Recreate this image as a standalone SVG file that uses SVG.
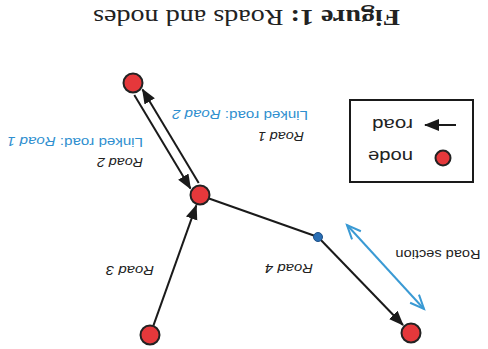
<svg xmlns="http://www.w3.org/2000/svg" width="488" height="349" viewBox="0 0 488 349">
<style>
.node{fill:#e5383b;stroke:#222;stroke-width:2}
.road{stroke:#1a1a1a;stroke-width:2;fill:none;marker-end:url(#ah)}
.plain{stroke:#1a1a1a;stroke-width:2;fill:none}
.lbl{font-family:"Liberation Sans",Arial,sans-serif;font-size:13px;fill:#222;text-anchor:middle;dominant-baseline:central}
.it{font-style:italic}
.blue{fill:#2f8fcf}
.cap{font-family:"Liberation Serif","Times New Roman",serif;font-size:24px;fill:#222;text-anchor:middle;dominant-baseline:central}
.leg{font-family:"Liberation Sans",Arial,sans-serif;font-size:17px;fill:#222;text-anchor:middle;dominant-baseline:central}
</style>
<defs>
<marker id="ah" markerUnits="userSpaceOnUse" markerWidth="16" markerHeight="14" refX="14" refY="6" orient="auto">
<path d="M0,0 L15,6 L0,12 z" fill="#1a1a1a"/>
</marker>
<marker id="bh" markerUnits="userSpaceOnUse" markerWidth="18" markerHeight="16" refX="15" refY="7" orient="auto-start-reverse">
<path d="M1,1 L15,7 L1,13" fill="none" stroke="#3a9ad4" stroke-width="2"/>
</marker>
</defs>
<rect width="488" height="349" fill="#fff"/>

<text class="cap" x="246.5" y="18" transform="rotate(180 246.5 18)" textLength="307" lengthAdjust="spacingAndGlyphs"><tspan font-weight="bold">Figure 1:</tspan> Roads and nodes</text>

<g id="connectors">
<line class="road" x1="134.3" y1="95" x2="190.5" y2="188.6"/>
<line class="road" x1="198.7" y1="183" x2="142.5" y2="89.4"/>
<line class="road" x1="153.4" y1="325.6" x2="196.3" y2="205.4"/>
<line class="plain" x1="209" y1="198.5" x2="318" y2="237"/>
<line class="road" x1="318" y1="237" x2="403" y2="325"/>
<line x1="347" y1="225" x2="424" y2="309" stroke="#3a9ad4" stroke-width="2" marker-start="url(#bh)" marker-end="url(#bh)"/>
</g>

<g id="node-a"><circle class="node" cx="133" cy="83" r="9.5"/></g>
<g id="node-b"><circle class="node" cx="200" cy="195" r="9.5"/></g>
<g id="node-c"><circle class="node" cx="150" cy="335" r="9.5"/></g>
<g id="node-d"><circle class="node" cx="411" cy="333" r="9.5"/></g>
<g id="section-point"><circle cx="318" cy="237" r="4.5" fill="#2a6fb5" stroke="#1d4f86" stroke-width="1"/></g>

<g id="labels">
<text class="lbl it" x="281" y="136" transform="rotate(180 281 136)" textLength="46" lengthAdjust="spacingAndGlyphs">Road 1</text>
<text class="lbl blue" x="240" y="115" transform="rotate(180 240 115)" textLength="136" lengthAdjust="spacingAndGlyphs">Linked road: <tspan class="it">Road 2</tspan></text>
<text class="lbl it" x="120" y="162" transform="rotate(180 120 162)" textLength="46" lengthAdjust="spacingAndGlyphs">Road 2</text>
<text class="lbl blue" x="75" y="142" transform="rotate(180 75 142)" textLength="136" lengthAdjust="spacingAndGlyphs">Linked road: <tspan class="it">Road 1</tspan></text>
<text class="lbl it" x="130" y="270" transform="rotate(180 130 270)" textLength="48" lengthAdjust="spacingAndGlyphs">Road 3</text>
<text class="lbl it" x="289" y="268" transform="rotate(180 289 268)" textLength="48" lengthAdjust="spacingAndGlyphs">Road 4</text>
<text class="lbl" x="438" y="254" transform="rotate(180 438 254)" textLength="85" lengthAdjust="spacingAndGlyphs">Road section</text>
</g>

<g id="legend">
<rect x="350" y="100" width="123" height="82" fill="none" stroke="#1a1a1a" stroke-width="2"/>
<line class="road" x1="456" y1="125" x2="425" y2="125"/>
<text class="leg" x="392.5" y="124" transform="rotate(180 392.5 124)" textLength="41" lengthAdjust="spacingAndGlyphs">road</text>
<circle class="node" cx="443" cy="158" r="7.5"/>
<text class="leg" x="390.5" y="156" transform="rotate(180 390.5 156)" textLength="45" lengthAdjust="spacingAndGlyphs">node</text>
</g>
</svg>
